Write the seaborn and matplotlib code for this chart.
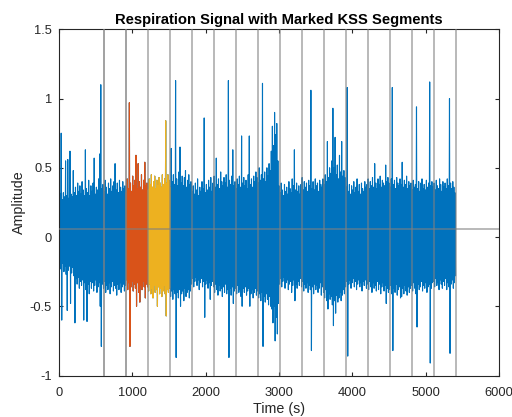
import numpy as np
import pandas as pd
import matplotlib
matplotlib.use("Agg")
import matplotlib.pyplot as plt
import seaborn as sns

# ---- data (15 s bins: bin max / bin min) ----
bin_width = 15
upper = [
    .28, .31, .75, .27, .32, .29, .55, .30, .56, .28, .62, .31, .29, .48, .32, .36, .30, .39, .33, .37,
    .31, .40, .34, .30, .63, .35, .32, .41, .30, .37, .33, .39, .57, .31, .36, .34, .42, .60, 1.10, .35,
    .38, .33, .41, .36, .31, .39, .35, .42, .33, .37, .40, .53, .34, .39, .32, .41, .36, .33, .40, .35,
    .37, .32, .42, .35, .97, .39, .33, .44, .37, .41, .59, .35, .53, .40, .36, .45, .34, .41, .54, .37,
    .39, .34, .42, .38, .45, .36, .40, .44, .35, .41, .37, .43, .39, .36, .45, .38, .42, .84, .39, .45,
    .41, .36, .64, .40, .45, .38, 1.13, .42, .37, .47, .65, .39, .44, .37, .43, .48, .36, .41, .45, .38,
    .40, .33, .37, .31, .39, .34, .42, .30, .36, .33, .40, .35, .86, .32, .38, .34, .41, .36, .43, .33,
    .39, .44, .36, .57, .38, .42, .35, .47, .40, .37, .43, .39, .45, .36, 1.13, .41, .38, .44, .63, .37,
    .40, .35, .42, .38, .44, .36, .73, .39, .43, .37, .41, .35, .45, .73, .38, .42, .36, .44, .40, .47,
    .43, .39, .50, .41, .45, 1.11, .42, .47, .40, .50, .44, .53, .48, .62, .80, .66, .90, .74, .82, .55,
    .37, .32, .39, .34, .30, .38, .33, .36, .31, .40, .35, .32, .42, .37, .63, .34, .39, .33, .37, .31,
    .38, .43, .34, .40, .36, .39, .33, .41, .37, 1.06, .35, .40, .34, .42, .37, .39, .33, .41, .38, .36,
    .42, .38, .45, .40, .69, .43, .50, .46, .55, .93, .50, .72, .45, .52, .42, .59, .47, .69, .44, .48,
    .43, .36, 1.08, .33, .38, .31, .37, .34, .40, .32, .36, .42, .33, .38, .31, .39, .35, .33, .40, .36,
    .38, .42, .35, .40, .37, .43, .36, .53, .39, .35, .42, .38, .44, .36, .41, .39, .37, .52, .40, .43,
    .39, .36, .42, 1.08, .38, .41, .35, .43, .39, .37, .42, .38, .54, .36, .41, .38, .44, .35, .40, .37,
    .39, .34, .41, .36, .38, .94, .35, .40, .33, .39, .42, .35, .38, .34, .41, .36, .39, 1.12, .37, .40,
    .36, .39, .34, .41, .37, .35, .42, .38, .33, .40, .36, .39, .35, .42, .37, 1.00, .39, .35, .40, .36,
    .32,
]
lower = [
    -.20, -.23, -.60, -.19, -.25, -.21, -.27, -.53, -.24, -.21, -.48, -.26, -.22, -.28, -.62, -.30, -.34, -.29, -.37, -.32,
    -.35, -.31, -.60, -.33, -.38, -.61, -.34, -.41, -.32, -.37, -.33, -.39, -.35, -.31, -.40, -.36, -.33, -.50, -.79, -.34,
    -.37, -.32, -.40, -.35, -.38, -.33, -.41, -.36, -.32, -.39, -.35, -.37, -.42, -.34, -.38, -.33, -.40, -.36, -.34, -.39,
    -.35, -.31, -.38, -.33, -.79, -.36, -.32, -.39, -.34, -.37, -.50, -.33, -.40, -.47, -.35, -.38, -.32, -.36, -.44, -.34,
    -.36, -.39, -.34, -.41, -.37, -.44, -.35, -.40, -.38, -.50, -.36, -.41, -.37, -.43, -.39, -.35, -.41, -.57, -.38, -.40,
    -.37, -.43, -.39, -.45, -.38, -.41, -.87, -.40, -.44, -.38, -.50, -.41, -.39, -.46, -.37, -.43, -.40, -.38, -.44, -.39,
    -.34, -.30, -.36, -.32, -.29, -.35, -.31, -.38, -.33, -.30, -.36, -.32, -.58, -.34, -.31, -.37, -.33, -.45, -.35, -.32,
    -.36, -.40, -.34, -.38, -.42, -.35, -.39, -.37, -.43, -.36, -.40, -.34, -.41, -.38, -.87, -.37, -.42, -.36, -.48, -.39,
    -.37, -.41, -.35, -.40, -.38, -.43, -.50, -.37, -.40, -.36, -.42, -.39, -.37, -.50, -.41, -.38, -.44, -.40, -.37, -.42,
    -.39, -.44, -.41, -.46, -.40, -.79, -.43, -.47, -.41, -.45, -.49, -.43, -.50, -.52, -.62, -.50, -.75, -.58, -.70, -.48,
    -.34, -.30, -.36, -.32, -.29, -.37, -.33, -.31, -.38, -.34, -.32, -.40, -.35, -.31, -.46, -.34, -.37, -.32, -.35, -.30,
    -.36, -.32, -.39, -.34, -.37, -.33, -.40, -.35, -.38, -.82, -.36, -.41, -.34, -.38, -.35, -.40, -.37, -.33, -.42, -.36,
    -.40, -.44, -.38, -.46, -.52, -.41, -.45, -.43, -.49, -.64, -.46, -.55, -.42, -.47, -.44, -.40, -.46, -.42, -.38, -.41,
    -.36, -.32, -.86, -.34, -.31, -.37, -.33, -.30, -.36, -.32, -.38, -.34, -.31, -.36, -.33, -.39, -.32, -.35, -.31, -.37,
    -.34, -.38, -.32, -.36, -.40, -.33, -.37, -.35, -.39, -.32, -.38, -.34, -.41, -.36, -.33, -.39, -.35, -.48, -.37, -.40,
    -.38, -.35, -.41, -.82, -.37, -.40, -.34, -.42, -.38, -.36, -.44, -.43, -.37, -.41, -.35, -.39, -.42, -.36, -.40, -.37,
    -.35, -.39, -.33, -.37, -.41, -.65, -.34, -.38, -.36, -.32, -.39, -.35, -.37, -.33, -.40, -.36, -.34, -.91, -.37, -.33,
    -.32, -.36, -.30, -.35, -.33, -.38, -.31, -.34, -.37, -.32, -.35, -.30, -.38, -.33, -.36, -.84, -.34, -.31, -.37, -.33,
    -.28,
]
kss_bounds = [610, 910, 1210, 1510, 1810, 2110, 2410, 2710, 3010,
              3310, 3610, 3910, 4210, 4510, 4810, 5110, 5410]
seg_orange = (910, 1215)
seg_yellow = (1215, 1515)
mean_level = 0.06
xticks = [0, 1000, 2000, 3000, 4000, 5000, 6000]
yticks = [-1, -0.5, 0, 0.5, 1, 1.5]
ytick_labels = ["-1", "-0.5", "0", "0.5", "1", "1.5"]

# build the signal table: each bin contributes its max then its min
times, values = [], []
for i, (u, l) in enumerate(zip(upper, lower)):
    times += [i * bin_width, i * bin_width + bin_width / 2]
    values += [u, l]
df = pd.DataFrame({"t": times, "v": values})

sns.set_theme(style="white")
plt.rcParams["font.family"] = ["Liberation Sans", "DejaVu Sans"]

fig = plt.figure(figsize=(5.12, 4.17), dpi=100)
ax = fig.add_axes([0.1152, 0.0995, 0.8594, 0.8302])

blue = "#0072BD"
orange = "#D95319"
yellow = "#EDB120"
lw = 0.8

sns.lineplot(data=df, x="t", y="v", ax=ax, color=blue, lw=lw,
             estimator=None, sort=False)
m1 = (df.t >= seg_orange[0]) & (df.t <= seg_orange[1])
sns.lineplot(data=df[m1], x="t", y="v", ax=ax, color=orange, lw=lw,
             estimator=None, sort=False)
m2 = (df.t >= seg_yellow[0]) & (df.t <= seg_yellow[1])
sns.lineplot(data=df[m2], x="t", y="v", ax=ax, color=yellow, lw=lw,
             estimator=None, sort=False)

for k, b in enumerate(kss_bounds):
    ax.axvline(b, color="#808080", lw=1.1, alpha=0.7, zorder=3)
    if k < 2:
        ax.axvline(b, color="#808080", lw=1.1, alpha=0.5, zorder=3)
ax.axhline(mean_level, color="#808080", lw=1.1, alpha=0.7, zorder=3)

ax.set_xlim(0, 6000)
ax.set_ylim(-1, 1.5)
ax.set_xticks(xticks)
ax.set_xticklabels([str(x) for x in xticks])
ax.set_yticks(yticks)
ax.set_yticklabels(ytick_labels)

axc = "#262626"
for s in ax.spines.values():
    s.set_visible(True)
    s.set_color(axc)
    s.set_linewidth(0.8)
ax.tick_params(direction="in", length=3, width=0.8, color=axc,
               labelcolor=axc, labelsize=9.3, top=True, right=True,
               bottom=True, left=True)
ax.tick_params(axis="x", pad=8)
ax.tick_params(axis="y", pad=5)

ax.set_xlabel("Time (s)", fontsize=10.3, color=axc, labelpad=2.5)
ax.set_ylabel("Amplitude", fontsize=10.3, color=axc, labelpad=3)
ax.set_title("Respiration Signal with Marked KSS Segments",
             fontsize=10.6, fontweight="bold", color="black", pad=3.5)
ax.grid(False)

fig.savefig("out.png", dpi=100)
